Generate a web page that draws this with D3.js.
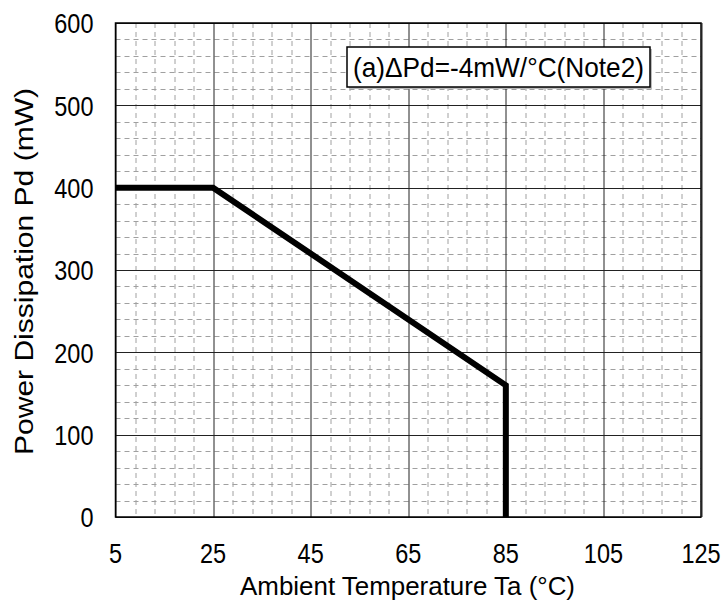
<!DOCTYPE html>
<html>
<head>
<meta charset="utf-8">
<script src="https://cdn.jsdelivr.net/npm/d3@7"></script>
<style>
  body { margin: 0; background: #fff; }
  text { font-family: "Liberation Sans", Arial, sans-serif; fill: #000; }
</style>
</head>
<body>
<div id="chart"></div>
<script>
// Data
const tempValues = [5, 25, 85, 85];
const powerValues = [400, 400, 160, 0];
const xTicks = [5, 25, 45, 65, 85, 105, 125];
const yTicks = [0, 100, 200, 300, 400, 500, 600];
const legendText = "(a)\u0394Pd=-4mW/\u00B0C(Note2)";

const W = 723, H = 601;
const margin = { top: 23, right: 22, bottom: 84, left: 115.5 };
const width = W - margin.left - margin.right;
const height = H - margin.top - margin.bottom;

const svg = d3.select("#chart").append("svg")
    .attr("width", W).attr("height", H);
const g = svg.append("g")
    .attr("transform", `translate(${margin.left},${margin.top})`);

const x = d3.scaleLinear().domain([5, 125]).range([0, width]);
const y = d3.scaleLinear().domain([0, 600]).range([height, 0]);

// Minor grid (dashed)
const xMinor = d3.range(5, 125.01, 4).filter(v => (v - 5) % 20 !== 0);
const yMinor = d3.range(0, 600.01, 20).filter(v => v % 100 !== 0);

g.selectAll(".xminor").data(xMinor).enter().append("line")
    .attr("x1", d => Math.round(x(d)) + 0.5).attr("x2", d => Math.round(x(d)) + 0.5)
    .attr("y1", 0).attr("y2", height)
    .attr("stroke", "#a0a0a0").attr("stroke-width", 1)
    .attr("stroke-dasharray", "5,4");
g.selectAll(".yminor").data(yMinor).enter().append("line")
    .attr("x1", 0).attr("x2", width)
    .attr("y1", d => Math.round(y(d)) + 0.5).attr("y2", d => Math.round(y(d)) + 0.5)
    .attr("stroke", "#a0a0a0").attr("stroke-width", 1)
    .attr("stroke-dasharray", "5,4");

// Major grid
g.selectAll(".xmajor").data(xTicks).enter().append("line")
    .attr("x1", d => Math.round(x(d)) + 0.5).attr("x2", d => Math.round(x(d)) + 0.5)
    .attr("y1", 0).attr("y2", height)
    .attr("stroke", "#222").attr("stroke-width", 1);
g.selectAll(".ymajor").data(yTicks).enter().append("line")
    .attr("x1", 0).attr("x2", width)
    .attr("y1", d => Math.round(y(d)) + 0.5).attr("y2", d => Math.round(y(d)) + 0.5)
    .attr("stroke", "#222").attr("stroke-width", 1);

// Frame
g.append("rect")
    .attr("x", 0).attr("y", 0).attr("width", width).attr("height", height)
    .attr("fill", "none").attr("stroke", "#000").attr("stroke-width", 1.5);

// Tick labels (glyphs slightly condensed as in the reference)
g.selectAll(".xlab").data(xTicks).enter().append("text")
    .attr("transform", d => `translate(${x(d)},${height + 46}) scale(0.84,1)`)
    .attr("text-anchor", "middle")
    .style("font-size", "28px")
    .text(d => d);
g.selectAll(".ylab").data(yTicks).enter().append("text")
    .attr("transform", d => `translate(-22,${y(d) + 10.3}) scale(0.84,1)`)
    .attr("text-anchor", "end")
    .style("font-size", "28px")
    .text(d => d);

// Data line
const line = d3.line()
    .x((d, i) => x(tempValues[i]))
    .y((d, i) => y(powerValues[i]));
g.append("path")
    .datum(tempValues)
    .attr("d", line)
    .attr("fill", "none")
    .attr("stroke", "#000")
    .attr("stroke-width", 6)
    .attr("stroke-linejoin", "miter");

// Legend box
const lg = svg.append("g");
lg.append("rect")
    .attr("x", 349).attr("y", 49).attr("width", 303).attr("height", 40)
    .attr("fill", "#bbb");
lg.append("rect")
    .attr("x", 347).attr("y", 47).attr("width", 303).attr("height", 40)
    .attr("fill", "#fff").attr("stroke", "#000").attr("stroke-width", 1.5);
lg.append("text")
    .attr("x", 353).attr("y", 77)
    .attr("textLength", 291)
    .attr("lengthAdjust", "spacingAndGlyphs")
    .style("font-size", "28px")
    .text(legendText);

// Axis titles
svg.append("text")
    .attr("x", 240).attr("y", 595)
    .attr("textLength", 335)
    .attr("lengthAdjust", "spacingAndGlyphs")
    .style("font-size", "26px")
    .text("Ambient Temperature Ta (\u00B0C)");
svg.append("text")
    .attr("transform", "translate(33,455) rotate(-90)")
    .attr("textLength", 367)
    .attr("lengthAdjust", "spacingAndGlyphs")
    .style("font-size", "26px")
    .text("Power Dissipation Pd (mW)");
</script>
</body>
</html>
